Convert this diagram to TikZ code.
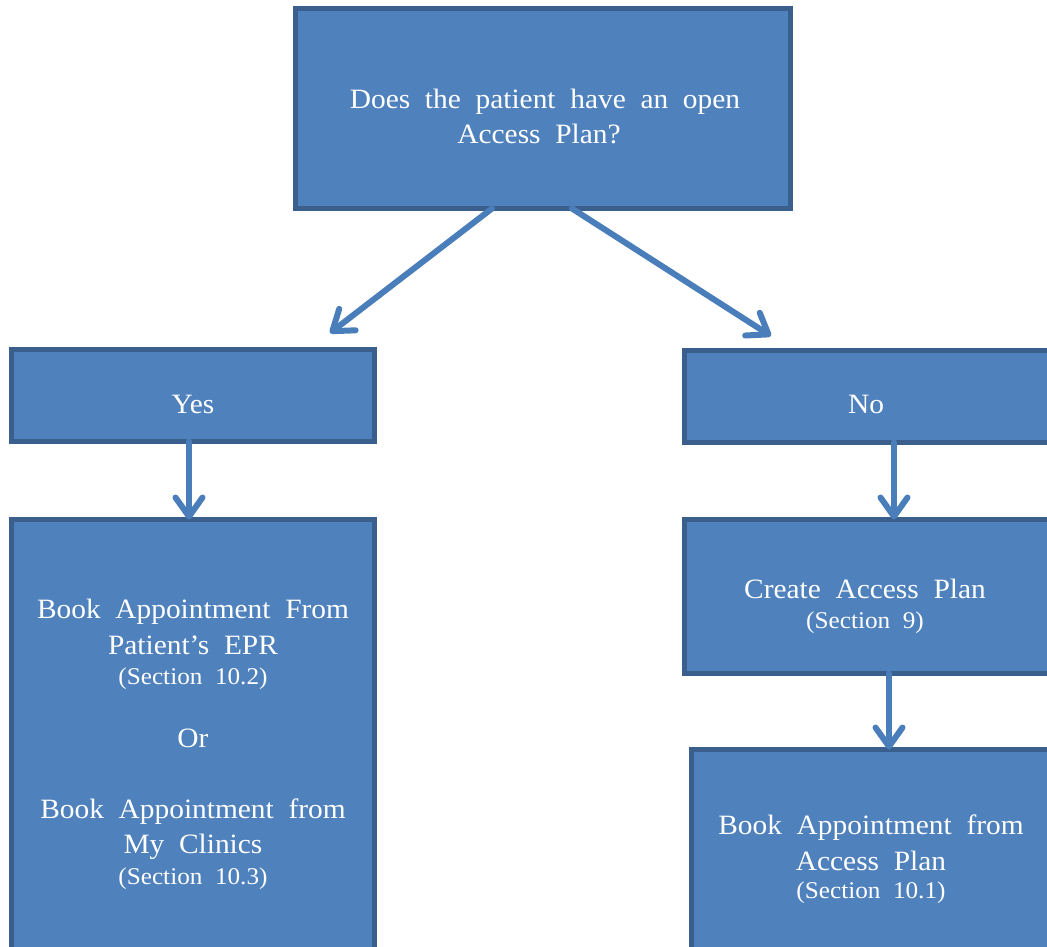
\documentclass[tikz,border=0pt]{standalone}
\usepackage{fontspec}
\setmainfont{Liberation Serif}[WordSpace=2.0,FakeStretch=1.05]
\usetikzlibrary{arrows.meta}
\definecolor{boxfill}{HTML}{4F81BD}
\definecolor{boxline}{HTML}{3A5F8D}
\definecolor{arrowc}{HTML}{4A7EBB}
\tikzset{
  box/.style={draw=boxline, fill=boxfill, line width=5pt, inner sep=0pt, outer sep=0pt, rectangle},
  big/.style={text=white, font=\fontsize{28}{35}\selectfont, anchor=base, inner sep=0pt},
  small/.style={text=white, font=\fontsize{24}{30}\selectfont, anchor=base, inner sep=0pt},
  arr/.style={draw=arrowc, line width=6pt, line cap=round, -{Straight Barb[length=19pt,width=27pt,round]}}
}
\begin{document}
\begin{tikzpicture}[x=1pt,y=-1pt]
\useasboundingbox (0,0) rectangle (1047,946);
\clip (0,0) rectangle (1047,946);
% boxes
\node[box, minimum width=495pt, minimum height=200pt] (top) at (543,108.5) {};
\node[box, minimum width=363pt, minimum height=92pt] (yes) at (193,395.5) {};
\node[box, minimum width=367pt, minimum height=92pt] (no) at (868,396.5) {};
\node[box, minimum width=363pt, minimum height=438pt] (epr) at (193,738.5) {};
\node[box, minimum width=367pt, minimum height=154pt] (create) at (868,596.5) {};
\node[box, minimum width=359pt, minimum height=208pt] (bap) at (870.5,853.5) {};
% texts
\node[big] (q1) at (545,108) {Does the patient have an open};
\node[big] (q2) at (539,143) {Access Plan?};
\node[big] (tyes) at (193,413) {Yes};
\node[big] (tno) at (866,413) {No};
\node[big] (e1) at (193,618) {Book Appointment From};
\node[big] (e2) at (193,654) {Patient’s EPR};
\node[small] (e3) at (193,684) {(Section 10.2)};
\node[big] (e4) at (193,747) {Or};
\node[big] (e5) at (193,818) {Book Appointment from};
\node[big] (e6) at (193,853) {My Clinics};
\node[small] (e7) at (193,884) {(Section 10.3)};
\node[big] (c1) at (865,598) {Create Access Plan};
\node[small] (c2) at (865,628) {(Section 9)};
\node[big] (b1) at (871,834) {Book Appointment from};
\node[big] (b2) at (871,870) {Access Plan};
\node[small] (b3) at (871,898) {(Section 10.1)};
% connectors
\coordinate (tipY) at (330,333);
\coordinate (tipN) at (771,336);
\draw[arr] ([xshift=-51pt]top.south) -- (tipY);
\draw[arr] ([xshift=29pt]top.south) -- (tipN);
\draw[arr] ([xshift=-4pt]yes.south) -- ([xshift=-4pt]epr.north);
\draw[arr] ([xshift=26pt]no.south) -- ([xshift=26pt]create.north);
\draw[arr] ([xshift=21pt]create.south) -- ([xshift=21pt]create.south |- bap.north);
\end{tikzpicture}
\end{document}
